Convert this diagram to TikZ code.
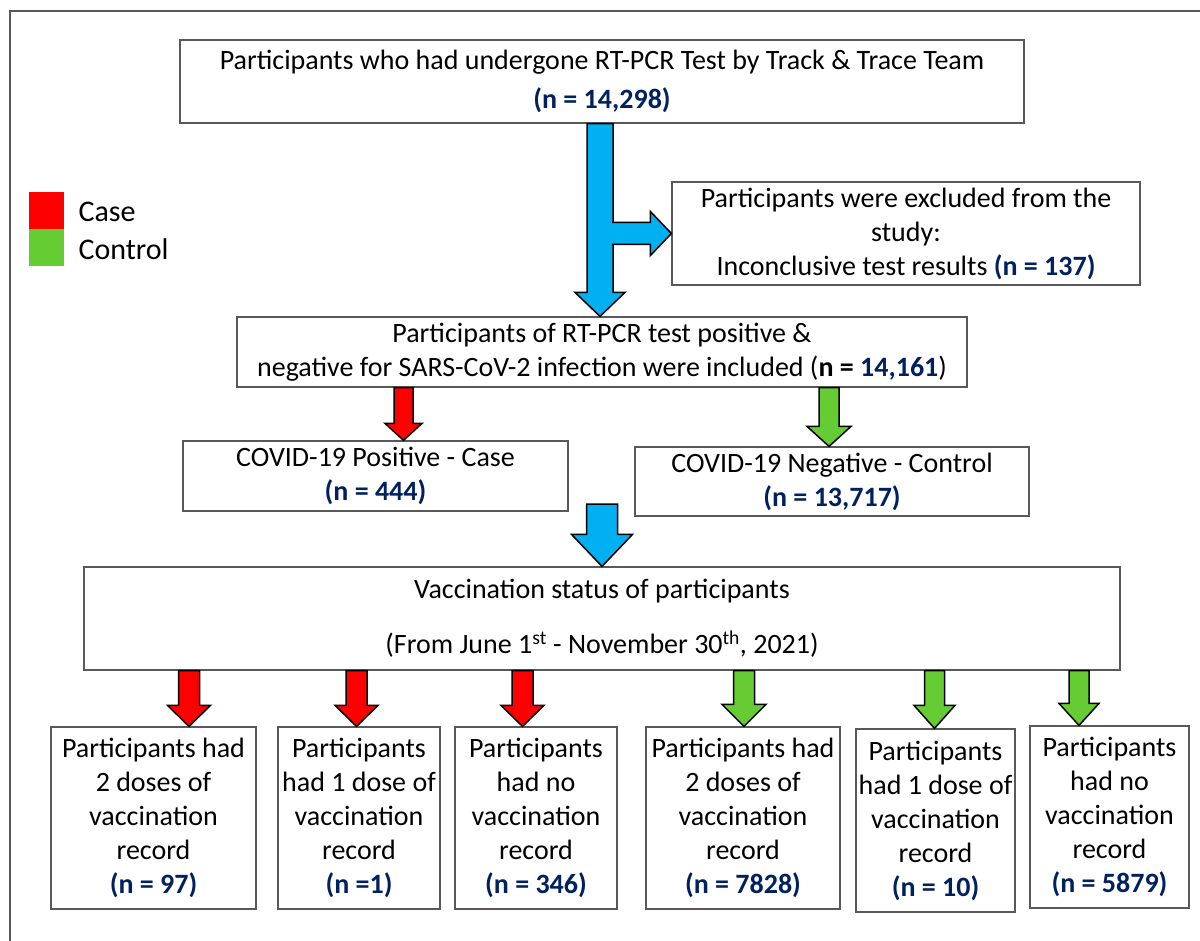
\documentclass[tikz,border=0pt]{standalone}
\usepackage{fontspec}
\setmainfont{Carlito}
\usetikzlibrary{calc}

\definecolor{navy}{HTML}{002060}
\definecolor{flowblue}{HTML}{00B0F0}
\definecolor{flowred}{HTML}{FF0000}
\definecolor{flowgreen}{HTML}{66CC33}
\definecolor{boxgray}{HTML}{595959}

% bold blue count
\newcommand{\nval}[1]{{\bfseries\color{navy}(n = #1)}}
% block arrow pointing down: colour, x, shaft half width, head half width, head length, from, to
\newcommand{\flowdown}[7]{%
  \draw[flow, fill=#1] let \p1=(#6), \p2=(#7) in
    ({#2pt-#3pt},\y1) -- ({#2pt-#3pt},\y2+#5pt) -- ({#2pt-#4pt},\y2+#5pt) -- (#2pt,\y2)
    -- ({#2pt+#4pt},\y2+#5pt) -- ({#2pt+#3pt},\y2+#5pt) -- ({#2pt+#3pt},\y1) -- cycle;}

\begin{document}
\begin{tikzpicture}[x=1pt,y=1pt,
    box/.style={draw=boxgray, line width=1.2pt, inner sep=0pt, align=center,
                font=\fontsize{28}{34}\selectfont},
    flow/.style={draw=black, line width=1.5pt, line join=miter}]
    \useasboundingbox (0,0) rectangle (1200,-941);
    \draw[boxgray, line width=2pt] (10,-941) -- (10,-11) -- (1200,-11);

    % legend
    \fill[flowred] (29,-192) rectangle (64,-229);
    \fill[flowgreen] (29,-229) rectangle (64,-266);
    \node[anchor=west, font=\fontsize{30}{34}\selectfont] (keycase) at (75,-212) {Case};
    \node[anchor=west, font=\fontsize{30}{34}\selectfont] (keyctrl) at (75,-249) {Control};

    % boxes
    \node[box, minimum width=844pt, minimum height=83pt, font=\fontsize{28}{39}\selectfont] (rtpcr) at (602,-81.5)
        {Participants who had undergone RT-PCR Test by Track \& Trace Team\\\nval{14,298}};
    \node[box, minimum width=468pt, minimum height=103pt] (excl) at (906,-233.5)
        {Participants were excluded from the\\study:\\Inconclusive test results \nval{137}};
    \node[box, minimum width=730pt, minimum height=70pt] (incl) at (602,-352)
        {Participants of RT-PCR test positive \&\\negative for SARS-CoV-2 infection were included ({\bfseries n = \color{navy}14,161})};
    \node[box, minimum width=385pt, minimum height=70pt] (case) at (375.5,-476)
        {COVID-19 Positive - Case\\\nval{444}};
    \node[box, minimum width=394pt, minimum height=69pt] (ctrl) at (832,-481.5)
        {COVID-19 Negative - Control\\\nval{13,717}};
    \node[box, minimum width=1036pt, minimum height=103pt, font=\fontsize{28}{55}\selectfont] (vacc) at (602,-618.5)
        {Vaccination status of participants\\(From June 1\textsuperscript{st} - November 30\textsuperscript{th}, 2021)};

    \node[box, minimum width=205pt, minimum height=182pt] (casetwo) at (153.5,-818)
        {Participants had\\2 doses of\\vaccination\\record\\\nval{97}};
    \node[box, minimum width=162pt, minimum height=182pt] (caseone) at (359,-818)
        {Participants\\had 1 dose of\\vaccination\\record\\{\bfseries\color{navy}(n =1)}};
    \node[box, minimum width=162pt, minimum height=182pt] (casenone) at (536,-818)
        {Participants\\had no\\vaccination\\record\\\nval{346}};
    \node[box, minimum width=194pt, minimum height=182pt] (ctrltwo) at (743,-818)
        {Participants had\\2 doses of\\vaccination\\record\\\nval{7828}};
    \node[box, minimum width=159pt, minimum height=183pt] (ctrlone) at (935.5,-820.5)
        {Participants\\had 1 dose of\\vaccination\\record\\\nval{10}};
    \node[box, minimum width=159pt, minimum height=182pt] (ctrlnone) at (1109.5,-817)
        {Participants\\had no\\vaccination\\record\\\nval{5879}};

    % arrows
    \flowdown{flowblue}{600}{13}{25}{24}{rtpcr.south}{incl.north}
    \draw[flow, fill=flowblue] let \p1=(excl.west) in
        (612pt,\y1+11pt) -- ({\x1-21pt},\y1+11pt) -- ({\x1-21pt},\y1+22pt) -- (\x1,\y1)
        -- ({\x1-21pt},\y1-22pt) -- ({\x1-21pt},\y1-11pt) -- (612pt,\y1-11pt);
    \flowdown{flowred}{403.5}{9.5}{18.5}{17}{incl.south}{case.north}
    \flowdown{flowgreen}{829}{10}{22}{20}{incl.south}{ctrl.north}
    \coordinate (split) at (602,-504);
    \flowdown{flowblue}{602}{15.5}{30.5}{32}{split}{vacc.north}

    \flowdown{flowred}{189}{10.5}{21.5}{21}{vacc.south}{casetwo.north}
    \flowdown{flowred}{356.5}{10.5}{21.5}{21}{vacc.south}{caseone.north}
    \flowdown{flowred}{522.5}{10.5}{21.5}{21}{vacc.south}{casenone.north}
    \flowdown{flowgreen}{744}{10.5}{22}{22}{vacc.south}{ctrltwo.north}
    \flowdown{flowgreen}{934.5}{10}{20.5}{23}{vacc.south}{ctrlone.north}
    \flowdown{flowgreen}{1079}{10}{20}{22}{vacc.south}{ctrlnone.north}
\end{tikzpicture}
\end{document}
